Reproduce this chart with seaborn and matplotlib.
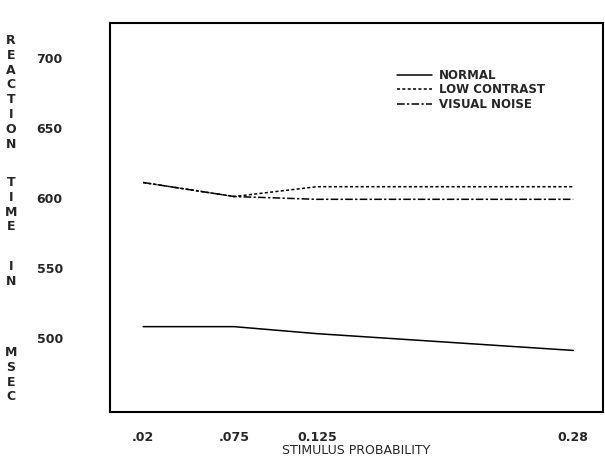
import numpy as np
import pandas as pd
import matplotlib
matplotlib.use("Agg")
import matplotlib.pyplot as plt
import seaborn as sns

# values
probability = [0.02, 0.075, 0.125, 0.28]
tick_labels = [".02", ".075", "0.125", "0.28"]
normal = [508, 508, 503, 491]
low_contrast = [611, 601, 608, 608]
visual_noise = [611, 601, 599, 599]
conditions = ["NORMAL", "LOW CONTRAST", "VISUAL NOISE"]

df = pd.DataFrame({
    "prob": probability * 3,
    "rt": normal + low_contrast + visual_noise,
    "cond": [c for c in conditions for _ in probability],
})

sns.set_style("white")
plt.rcParams["font.family"] = ["Liberation Sans Narrow", "DejaVu Sans"]

fig = plt.figure(figsize=(6.05, 4.62), dpi=100)
ax = fig.add_axes([110 / 605, 1 - 412 / 462, 493 / 605, 389 / 462])

dashes = {"NORMAL": "", "LOW CONTRAST": (2, 1.5), "VISUAL NOISE": (5, 1.5, 1.5, 1.5)}
sns.lineplot(data=df, x="prob", y="rt", hue="cond", style="cond",
             palette=["black"] * 3, dashes=dashes, linewidth=1.1, ax=ax)

ax.set_xlim(0, 0.298)
ax.set_ylim(447, 725)
ax.set_xticks(probability)
ax.set_xticklabels(tick_labels, fontsize=9, fontweight="bold")
ax.set_yticks([500, 550, 600, 650, 700])
ax.set_yticklabels(["500", "550", "600", "650", "700"], fontsize=9, fontweight="bold")
ax.tick_params(axis="both", direction="out", length=8, width=1.2, color="black")
ax.tick_params(axis="x", pad=6)
ax.tick_params(axis="y", pad=26)
ax.set_xlabel("STIMULUS PROBABILITY", fontsize=9, labelpad=0)
ax.set_ylabel("")
for s in ax.spines.values():
    s.set_color("black")
    s.set_linewidth(1.5)

leg = ax.legend(loc="upper left", bbox_to_anchor=(0.56, 0.91), frameon=False,
                fontsize=8.5, handlelength=3, labelspacing=0.15, handletextpad=0.6)
for t in leg.get_texts():
    t.set_fontweight("bold")

# vertical axis title, one letter per row, each word placed on its own
words = ["REACTION", "TIME", "IN", "MSEC"]
word_tops = [34, 176, 260, 346]
for w, top in zip(words, word_tops):
    fig.text(11 / 605, 1 - top / 462, "\n".join(w), fontsize=9, fontweight="bold",
             va="top", ha="center", linespacing=1.18)

fig.savefig("out.png", dpi=100)
